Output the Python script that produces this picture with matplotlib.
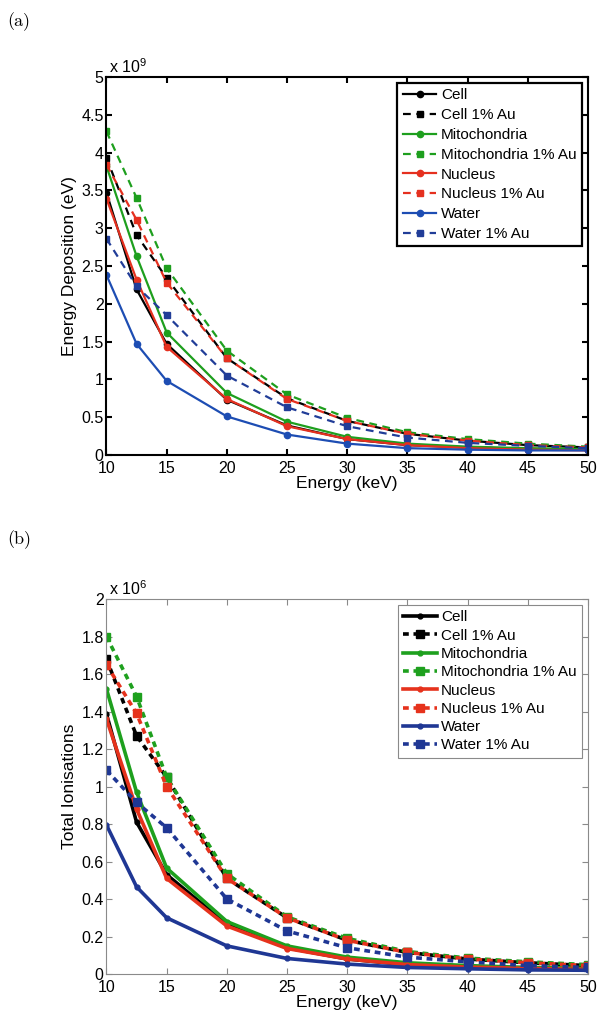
import matplotlib

matplotlib.use("Agg")

import matplotlib.pyplot as plt
from matplotlib.ticker import FixedLocator, FuncFormatter

plt.rcParams["font.family"] = ["Liberation Sans", "DejaVu Sans"]
plt.rcParams["mathtext.fontset"] = "custom"
plt.rcParams["mathtext.rm"] = "Liberation Sans"

energy = [10, 12.5, 15, 20, 25, 30, 35, 40, 45, 50]

labels = [
    "Cell",
    "Cell 1% Au",
    "Mitochondria",
    "Mitochondria 1% Au",
    "Nucleus",
    "Nucleus 1% Au",
    "Water",
    "Water 1% Au",
]

# energy deposition, units of 1e9 eV
dep_cell = [3.47, 2.19, 1.47, 0.73, 0.39, 0.21, 0.13, 0.10, 0.08, 0.07]
dep_cell_au = [3.93, 2.91, 2.34, 1.28, 0.75, 0.45, 0.28, 0.19, 0.13, 0.10]
dep_mito = [3.82, 2.63, 1.62, 0.82, 0.44, 0.24, 0.15, 0.11, 0.09, 0.08]
dep_mito_au = [4.28, 3.40, 2.47, 1.38, 0.80, 0.49, 0.30, 0.21, 0.15, 0.11]
dep_nuc = [3.39, 2.32, 1.43, 0.74, 0.38, 0.21, 0.13, 0.09, 0.07, 0.06]
dep_nuc_au = [3.84, 3.11, 2.28, 1.28, 0.74, 0.45, 0.28, 0.19, 0.13, 0.10]
dep_water = [2.38, 1.47, 0.98, 0.51, 0.27, 0.15, 0.09, 0.07, 0.06, 0.06]
dep_water_au = [2.86, 2.23, 1.85, 1.05, 0.63, 0.38, 0.23, 0.16, 0.12, 0.09]

# total ionisations, units of 1e6
ion_cell = [1.387, 0.81, 0.53, 0.265, 0.14, 0.08, 0.05, 0.04, 0.03, 0.03]
ion_cell_au = [1.68, 1.27, 1.05, 0.51, 0.30, 0.18, 0.115, 0.08, 0.06, 0.045]
ion_mito = [1.52, 0.97, 0.565, 0.28, 0.15, 0.09, 0.06, 0.045, 0.035, 0.03]
ion_mito_au = [1.80, 1.48, 1.05, 0.535, 0.305, 0.19, 0.12, 0.085, 0.065, 0.05]
ion_nuc = [1.36, 0.88, 0.51, 0.256, 0.136, 0.08, 0.05, 0.037, 0.03, 0.025]
ion_nuc_au = [1.65, 1.39, 1.00, 0.51, 0.30, 0.18, 0.115, 0.08, 0.06, 0.045]
ion_water = [0.795, 0.465, 0.30, 0.15, 0.083, 0.053, 0.035, 0.028, 0.022, 0.02]
ion_water_au = [1.087, 0.915, 0.78, 0.40, 0.23, 0.14, 0.09, 0.065, 0.045, 0.035]

x_ticks = [10, 15, 20, 25, 30, 35, 40, 45, 50]
dep_ticks = [0, 0.5, 1, 1.5, 2, 2.5, 3, 3.5, 4, 4.5, 5]
ion_ticks = [0, 0.2, 0.4, 0.6, 0.8, 1, 1.2, 1.4, 1.6, 1.8, 2]

colors_a = ["#000000", "#000000", "#1e9f1e", "#1e9f1e",
            "#e5301f", "#e5301f", "#1d4db3", "#213d98"]
colors_b = ["#000000", "#000000", "#1ea01e", "#1ea01e",
            "#e6321c", "#e6321c", "#1f3794", "#1f3794"]


def style_axes(ax, ticks, scale, exponent, spine_color, spine_width):

    ax.set_xlim(10, 50)
    ax.set_ylim(0, ticks[-1] * scale)

    ax.xaxis.set_major_locator(FixedLocator(x_ticks))
    ax.yaxis.set_major_locator(FixedLocator([t * scale for t in ticks]))
    ax.yaxis.set_major_formatter(FuncFormatter(lambda v, p: "%g" % round(v / scale, 3)))

    ax.tick_params(direction="in", top=True, right=True, length=4,
                   width=spine_width, color=spine_color, labelsize=11.5)
    ax.tick_params(axis="x", pad=4.5)
    ax.tick_params(axis="y", pad=2)

    for spine in ax.spines.values():
        spine.set_color(spine_color)
        spine.set_linewidth(spine_width)

    ax.text(0.005, 1.003, r"x 10$^{\mathrm{%d}}$" % exponent,
            transform=ax.transAxes, fontsize=11.5, ha="left", va="bottom")

    ax.set_xlabel("Energy (keV)", fontsize=12.5, labelpad=0)


def draw_panel(ax, series, colors, scale, lw, circle_size, square_size, dashes):

    for i, values in enumerate(series):

        if i % 2 == 0:
            ax.plot(
                energy,
                [v * scale for v in values],
                color=colors[i],
                linewidth=lw,
                marker="o",
                markersize=circle_size,
                label=labels[i],
            )
        else:
            ax.plot(
                energy,
                [v * scale for v in values],
                color=colors[i],
                linewidth=lw,
                linestyle=(0, dashes),
                marker="s",
                markersize=square_size,
                label=labels[i],
            )


def main():

    fig = plt.figure(figsize=(6.06, 10.24), dpi=100)

    ax_a = fig.add_axes([0.1757, 0.5557, 0.7946, 0.3691])
    ax_b = fig.add_axes([0.1757, 0.0488, 0.7946, 0.3662])

    draw_panel(
        ax_a,
        [dep_cell, dep_cell_au, dep_mito, dep_mito_au,
         dep_nuc, dep_nuc_au, dep_water, dep_water_au],
        colors_a, 1e9, 1.6, 4.5, 5, (3.5, 2.5),
    )

    style_axes(ax_a, dep_ticks, 1e9, 9, "black", 1.5)
    ax_a.set_ylabel("Energy Deposition (eV)", fontsize=12.5, labelpad=3)

    leg_a = ax_a.legend(loc="upper right", fontsize=11, numpoints=1,
                        handlelength=2.2, handletextpad=0.3,
                        labelspacing=0.38, borderaxespad=0.4,
                        fancybox=False, framealpha=1, borderpad=0.35)
    leg_a.get_frame().set_edgecolor("black")
    leg_a.get_frame().set_linewidth(1.6)

    draw_panel(
        ax_b,
        [ion_cell, ion_cell_au, ion_mito, ion_mito_au,
         ion_nuc, ion_nuc_au, ion_water, ion_water_au],
        colors_b, 1e6, 2.6, 3.5, 6, (1.6, 1.3),
    )

    style_axes(ax_b, ion_ticks, 1e6, 6, "#8a8a8a", 0.8)
    ax_b.set_ylabel("Total Ionisations", fontsize=12.5, labelpad=3)

    leg_b = ax_b.legend(loc="upper right", fontsize=11, numpoints=1,
                        handlelength=2.2, handletextpad=0.25,
                        labelspacing=0.28, borderaxespad=0.4,
                        fancybox=False, framealpha=1, borderpad=0.35)
    leg_b.get_frame().set_edgecolor("#8a8a8a")
    leg_b.get_frame().set_linewidth(0.8)

    fig.text(0.012, 0.979, "(a)", family="cmr10", fontsize=13, va="center")
    fig.text(0.012, 0.473, "(b)", family="cmr10", fontsize=13, va="center")

    fig.savefig("out.png", dpi=100)


if __name__ == "__main__":

    main()
